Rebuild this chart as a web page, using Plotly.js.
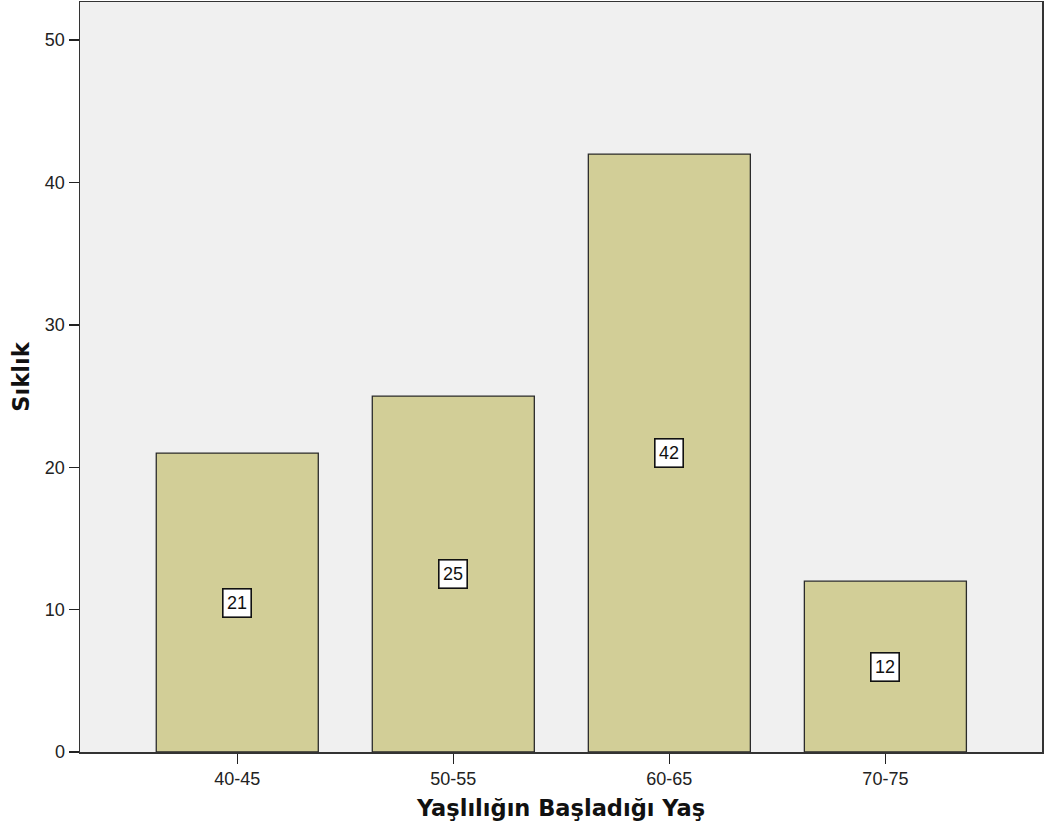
<!DOCTYPE html>
<html>
<head>
<meta charset="utf-8">
<script src="https://cdn.plot.ly/plotly-3.0.1.min.js"></script>
<style>html,body{margin:0;padding:0;background:#fff;}#chart{width:1057px;height:834px;}</style>
</head>
<body>
<div id="chart"></div>
<script>
const categories = ["40-45", "50-55", "60-65", "70-75"];
const counts = [21, 25, 42, 12];
const yTicks = [0, 10, 20, 30, 40, 50];
const xTitle = "Yaşlılığın Başladığı Yaş";
const yTitle = "Sıklık";

const tickFont = "Liberation Sans, Arial, sans-serif";
const titleFont = "DejaVu Sans, Verdana, sans-serif";

const trace = {
  type: "bar",
  x: categories,
  y: counts,
  width: 0.75,
  marker: {color: "#d2ce97", line: {color: "#2b2b2b", width: 1.3}},
  hoverinfo: "none"
};

const annotations = categories.map((c, i) => ({
  x: c, y: counts[i] / 2, xref: "x", yref: "y",
  text: String(counts[i]), showarrow: false,
  bgcolor: "#ffffff", bordercolor: "#111111", borderwidth: 1.6, borderpad: 3.5,
  font: {family: tickFont, size: 18, color: "#111"}
}));

const layout = {
  width: 1057, height: 834,
  margin: {l: 80, r: 15, t: 2, b: 82},
  paper_bgcolor: "#ffffff",
  plot_bgcolor: "#f0f0f0",
  showlegend: false,
  xaxis: {
    type: "category",
    range: [-0.728, 3.725],
    showgrid: false, zeroline: false,
    showline: true, linecolor: "#333", linewidth: 1.5, mirror: true,
    ticks: "outside", ticklen: 10, tickcolor: "#222", tickwidth: 1.5,
    tickfont: {family: tickFont, size: 18, color: "#222"},
    title: {text: xTitle, font: {family: titleFont, size: 22.5, color: "#111", weight: "bold"}, standoff: 12}
  },
  yaxis: {
    range: [0, 52.68],
    tickvals: yTicks,
    showgrid: false, zeroline: false,
    showline: true, linecolor: "#333", linewidth: 1.5, mirror: true,
    ticks: "outside", ticklen: 10, tickcolor: "#222", tickwidth: 1.5,
    tickfont: {family: tickFont, size: 18, color: "#222"},
    title: {text: yTitle, font: {family: titleFont, size: 22.5, color: "#111", weight: "bold"}, standoff: 9}
  },
  annotations: annotations
};

Plotly.newPlot("chart", [trace], layout, {displayModeBar: false, staticPlot: true});
</script>
</body>
</html>
